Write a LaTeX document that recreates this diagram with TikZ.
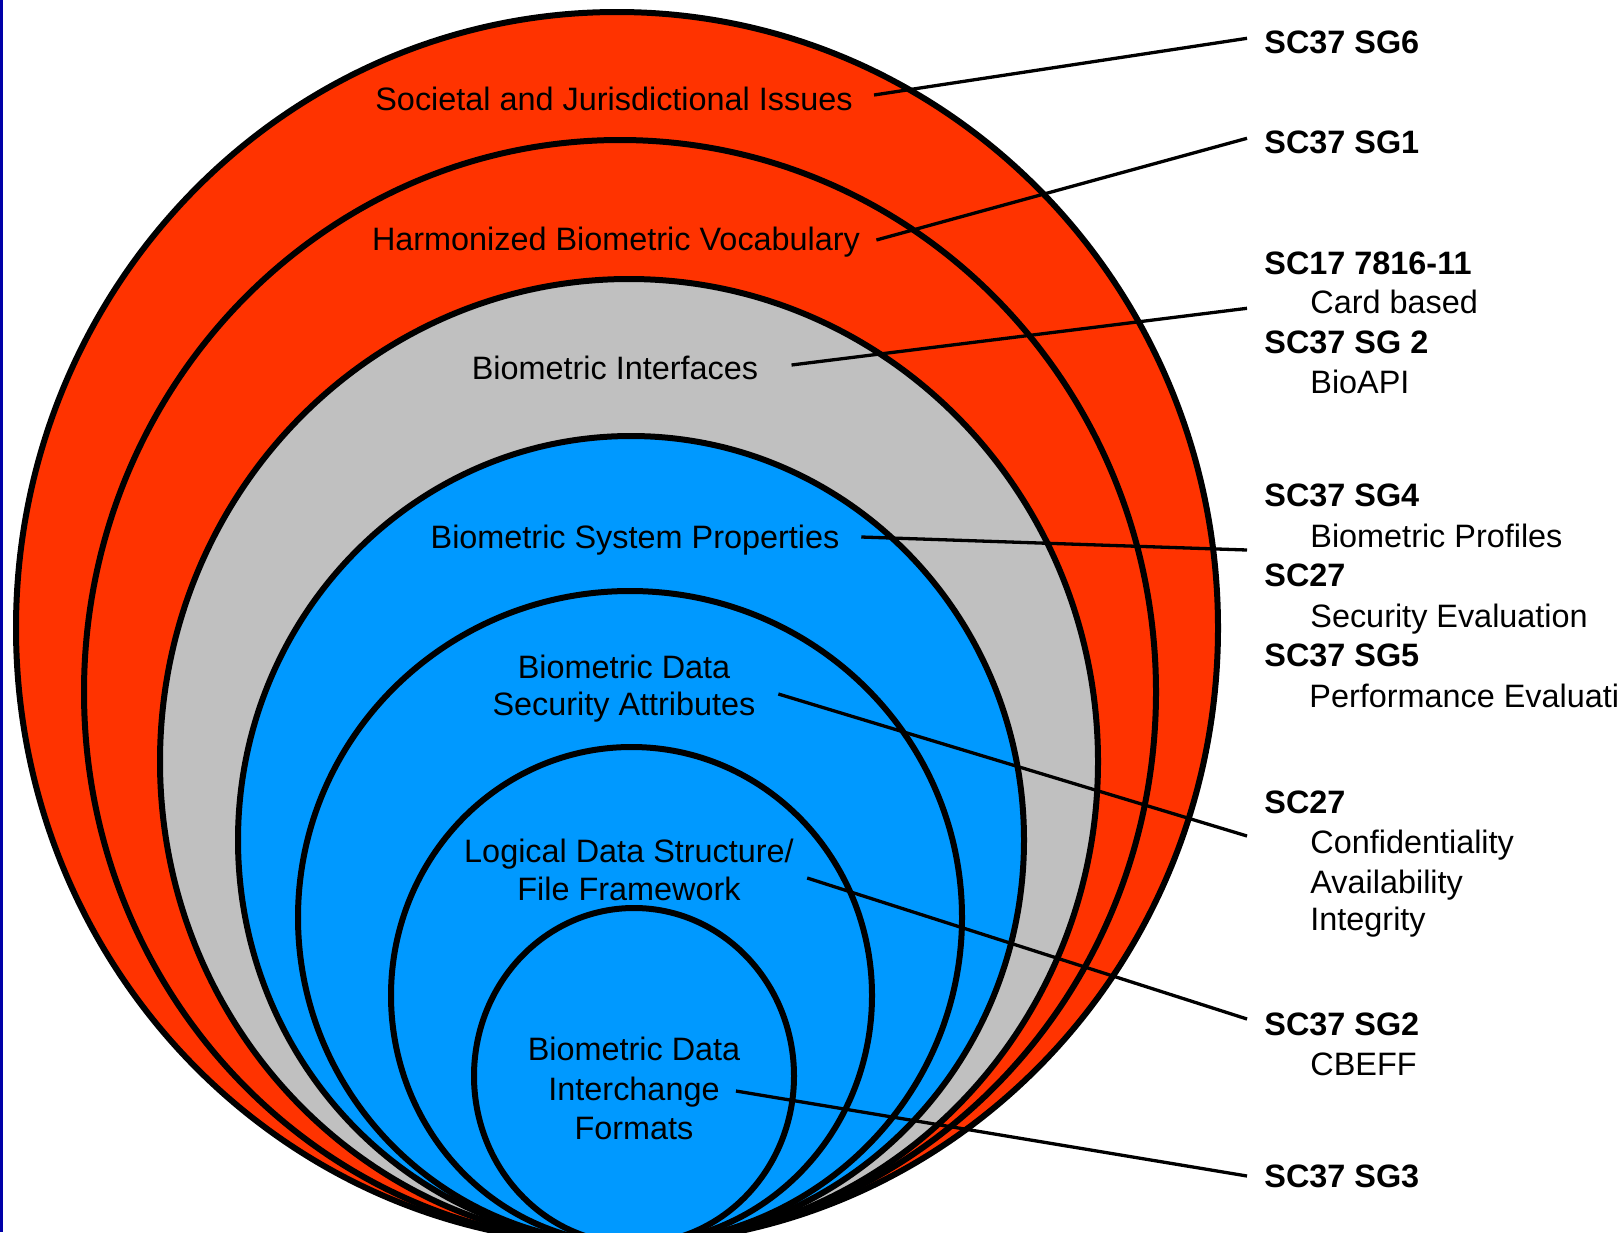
\documentclass[tikz,border=0pt]{standalone}
\usepackage{fontspec}
\setmainfont{Liberation Sans}
\definecolor{ringred}{HTML}{FF3300}
\definecolor{ringgray}{HTML}{C0C0C0}
\definecolor{ringblue}{HTML}{0099FF}
\definecolor{edgeblue}{HTML}{0000A8}
\begin{document}
\begin{tikzpicture}[x=0.5pt,y=-0.5pt,
  ring/.style={draw=black,line width=3pt},
  lab/.style={inner sep=0pt,text height=11.6pt,text depth=0pt,font=\fontsize{16.2pt}{19.5pt}\selectfont},
  rb/.style={lab,anchor=west,font=\fontsize{16.2pt}{19.5pt}\selectfont\bfseries},
  rn/.style={lab,anchor=west},
  conn/.style={draw=black,line width=1.65pt}]
\useasboundingbox (0,0) rectangle (1621,1232);
\clip (0,0) rectangle (1621,1232);
\fill[white] (0,0) rectangle (1621,1232);
% rings
\filldraw[ring,fill=ringred]  (617,628)    ellipse [x radius=300.5pt, y radius=308pt];
\filldraw[ring,fill=ringred]  (620,692)    ellipse [x radius=268pt,   y radius=276pt];
\filldraw[ring,fill=ringgray] (629,761.5)  ellipse [x radius=234.5pt, y radius=241.25pt];
\filldraw[ring,fill=ringblue] (631,840)    ellipse [x radius=196.5pt, y radius=202pt];
\filldraw[ring,fill=ringblue] (630,917.5)  ellipse [x radius=166pt,   y radius=163.25pt];
\filldraw[ring,fill=ringblue] (631.5,995.5) ellipse [x radius=120.25pt, y radius=124.25pt];
\filldraw[ring,fill=ringblue] (634,1076)   ellipse [x radius=80pt,    y radius=84pt];
% left edge line
\fill[edgeblue] (0,0) rectangle (2.5,1232);
% ring labels
\node[lab] (t1) at (614,98.4) {Societal and Jurisdictional Issues};
\node[lab] (t2) at (616,238.4) {Harmonized Biometric Vocabulary};
\node[lab] (t3) at (615,367.4) {Biometric Interfaces};
\node[lab] (t4) at (635,537) {Biometric System Properties};
\node[lab] (t5a) at (624,667) {Biometric Data};
\node[lab] (t5b) at (624,704) {Security Attributes};
\node[lab] (t6a) at (629,851) {Logical Data Structure/};
\node[lab] (t6b) at (629,889) {File Framework};
\node[lab] (t7a) at (634,1049) {Biometric Data};
\node[lab] (t7b) at (634,1088.4) {Interchange};
\node[lab] (t7c) at (634,1128) {Formats};
% right labels
\node[rb] (r1) at (1264,41.7) {SC37 SG6};
\node[rb] (r2) at (1264,141.4) {SC37 SG1};
\node[rb] (r3a) at (1264,262.4) {SC17 7816-11};
\node[rn] (r3b) at (1310,301.4) {Card based};
\node[rb] (r3c) at (1264,341.4) {SC37 SG 2};
\node[rn] (r3d) at (1310,381.4) {BioAPI};
\node[rb] (r4a) at (1264,494.4) {SC37 SG4};
\node[rn] (r4b) at (1310,535.4) {Biometric Profiles};
\node[rb] (r4c) at (1264,574.4) {SC27};
\node[rn] (r4d) at (1310,615.4) {Security Evaluation};
\node[rb] (r4e) at (1264,654.4) {SC37 SG5};
\node[rn] (r4f) at (1309,695.4) {Performance Evaluati};
\node[rb] (r5a) at (1264,801.4) {SC27};
\node[rn] (r5b) at (1310,841.4) {Confidentiality};
\node[rn] (r5c) at (1310,881.4) {Availability};
\node[rn] (r5d) at (1310,918.4) {Integrity};
\node[rb] (r6a) at (1264,1023.4) {SC37 SG2};
\node[rn] (r6b) at (1310,1063.4) {CBEFF};
\node[rb] (r7) at (1264,1175.4) {SC37 SG3};
% connectors
\draw[conn] ([xshift=10.5pt,yshift=1.7pt]t1.east) -- ([xshift=-8.5pt,yshift=1.7pt]r1.west);
\draw[conn] ([xshift=8pt,yshift=-0.8pt]t2.east) -- ([xshift=-8.5pt,yshift=1.55pt]r2.west);
\draw[conn] ([xshift=16.5pt,yshift=1.2pt]t3.east) -- ([xshift=-31.5pt,yshift=-3.45pt]r3b.west);
\draw[conn] ([xshift=10.75pt]t4.east) -- ([xshift=-31.5pt,yshift=-7.3pt]r4b.west);
\draw[conn] ([xshift=11.25pt,yshift=5pt]t5b.east) -- ([xshift=-31.5pt,yshift=2.7pt]r5b.west);
\draw[conn] ([xshift=6.5pt,yshift=-13.5pt]t6a.east) -- ([xshift=-8.5pt,yshift=2.2pt]r6a.west);
\draw[conn] ([xshift=8pt,yshift=-1.3pt]t7b.east) -- ([xshift=-8.5pt,yshift=-0.3pt]r7.west);
\end{tikzpicture}
\end{document}
